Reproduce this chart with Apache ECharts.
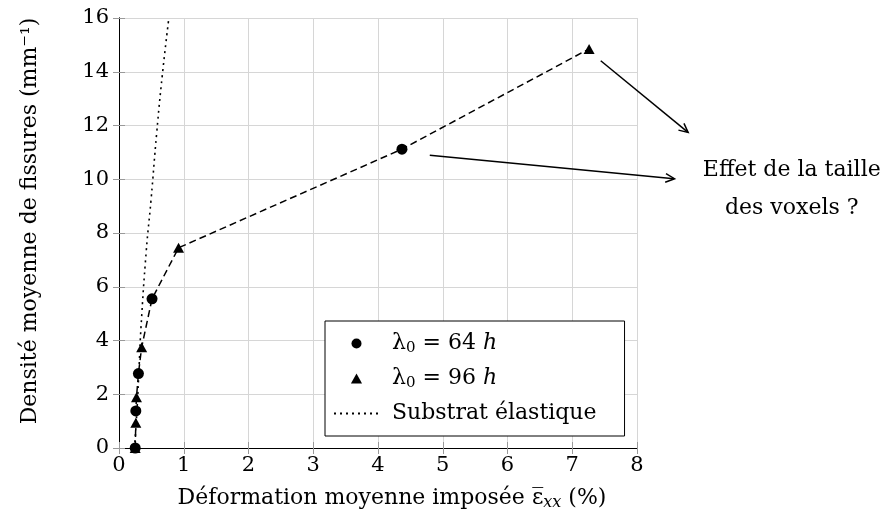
<!DOCTYPE html>
<html><head><meta charset="utf-8">
<script src="https://cdn.jsdelivr.net/npm/echarts@6/dist/echarts.min.js"></script>
<style>html,body{margin:0;padding:0;background:#fff}#c{width:886px;height:526px}</style>
</head><body><div id="c"></div>
<script>
// Data
const pts64 = [[0.25, 0], [0.26, 1.38], [0.30, 2.77], [0.51, 5.55], [4.37, 11.12]];
const pts96 = [[0.25, 0], [0.26, 0.94], [0.27, 1.89], [0.35, 3.75], [0.92, 7.45], [7.26, 14.85]];
const substrat = [[0.24, 0], [0.28, 1.5], [0.31, 3.0], [0.34, 4.5], [0.42, 7.3], [0.495, 9.24], [0.582, 11.72], [0.67, 13.9], [0.77, 16]];
const xTicks = [0, 1, 2, 3, 4, 5, 6, 7, 8];
const yTicks = [0, 2, 4, 6, 8, 10, 12, 14, 16];
const arrows = [[[7.44, 14.41], [8.79, 11.74]], [[4.80, 10.89], [8.58, 10.02]]];
const noteAnchor = [10.39, 10.35];
const noteLines = ['Effet de la taille', 'des voxels ?'];

const combined = pts64.concat(pts96).sort((a, b) => a[0] - b[0] || a[1] - b[1]);
const FONT = 'DejaVu Serif';
const FS = 22;
const chart = echarts.init(document.getElementById('c'), null, {renderer: 'canvas'});
const legendText = {
  l64: '{t|λ}{s|0}{t| = 64 }{i|h}',
  l96: '{t|λ}{s|0}{t| = 96 }{i|h}',
  sub: '{t|Substrat élastique}'
};
const tickAxis = {
  axisLine: {show: true, lineStyle: {color: '#000', width: 1}},
  axisTick: {show: true, inside: true, length: 6, lineStyle: {color: '#999'}},
  axisLabel: {show: false},
  splitLine: {show: false}
};
chart.setOption({
  animation: false,
  backgroundColor: '#fff',
  grid: {left: 119, top: 18, right: 249, bottom: 78, containLabel: false},
  xAxis: [{
    type: 'value', min: xTicks[0], max: xTicks[xTicks.length - 1], interval: 1,
    name: '{a|Déformation moyenne imposée }{e|ε̅}{s|xx}{a| (%)}',
    nameLocation: 'middle', nameGap: 37,
    nameTextStyle: {padding: [0, 0, 0, 28], rich: {
      a: {fontFamily: FONT, fontSize: FS, color: '#000'},
      e: {fontFamily: FONT, fontSize: FS, color: '#000'},
      s: {fontFamily: FONT, fontSize: 16, fontStyle: 'italic', color: '#000', padding: [10, 0, 0, 0]}
    }},
    axisLine: {show: true, onZero: false, lineStyle: {color: '#000', width: 1}},
    axisTick: {show: true, inside: true, length: 6, lineStyle: {color: '#999'}},
    axisLabel: {fontFamily: FONT, fontSize: 21, color: '#000', margin: 7},
    splitLine: {show: true, lineStyle: {color: '#d6d6d6', width: 1}}
  }, Object.assign({type: 'value', position: 'top', min: 0, max: 8, interval: 1}, tickAxis)],
  yAxis: [{
    type: 'value', min: yTicks[0], max: yTicks[yTicks.length - 1], interval: 2,
    name: 'Densité moyenne de fissures (mm⁻¹)',
    nameLocation: 'middle', nameGap: 78,
    nameTextStyle: {fontFamily: FONT, fontSize: FS, color: '#000', padding: [0, 0, 0, 24]},
    axisLine: {show: true, onZero: false, lineStyle: {color: '#000', width: 1}},
    axisTick: {show: true, inside: true, length: 6, lineStyle: {color: '#999'}},
    axisLabel: {fontFamily: FONT, fontSize: 21, color: '#000', margin: 10},
    splitLine: {show: true, lineStyle: {color: '#d6d6d6', width: 1}}
  }, Object.assign({type: 'value', position: 'right', min: 0, max: 16, interval: 2}, tickAxis)],
  legend: {
    orient: 'vertical', left: 325, top: 321,
    data: [
      {name: 'l64', icon: 'circle'},
      {name: 'l96', icon: 'path://M5,0 L10,9 L0,9 Z'},
      {name: 'sub', itemStyle: {color: 'rgba(0,0,0,0)', borderWidth: 0, opacity: 0}}
    ],
    symbolKeepAspect: true,
    itemWidth: 45, itemHeight: 10, itemGap: 11,
    padding: [11, 28, 11, 8],
    borderColor: '#000', borderWidth: 1, backgroundColor: '#fff',
    formatter: n => legendText[n],
    textStyle: {
      fontFamily: FONT, fontSize: FS, color: '#000', lineHeight: 23, padding: [0, 0, 0, 8],
      rich: {
        t: {fontFamily: FONT, fontSize: FS, color: '#000'},
        s: {fontFamily: FONT, fontSize: 15, color: '#000', padding: [10, 0, 0, 0]},
        i: {fontFamily: FONT, fontSize: FS, fontStyle: 'italic', color: '#000'}
      }
    }
  },
  series: [
    {
      name: 'sub', type: 'line', data: substrat, smooth: true, symbol: 'none', showSymbol: false, z: 2,
      lineStyle: {color: '#000', width: 1.6, type: [2, 4]}, itemStyle: {color: '#000'}
    },
    {
      name: 'path', type: 'line', data: combined, symbol: 'none', z: 2,
      lineStyle: {color: '#000', width: 1.5, type: [7, 4]}
    },
    {
      name: 'l64', type: 'scatter', data: pts64, symbol: 'circle', symbolSize: 11, z: 4,
      itemStyle: {color: '#000', opacity: 1}
    },
    {
      name: 'l96', type: 'scatter', data: pts96, symbol: 'triangle', symbolSize: [11, 10], z: 5,
      itemStyle: {color: '#000', opacity: 1}
    }
  ]
});
const toPx = v => chart.convertToPixel({xAxisIndex: 0, yAxisIndex: 0}, v);
const graphics = [];
arrows.forEach(a => {
  const p0 = toPx(a[0]), p1 = toPx(a[1]);
  const dx = p1[0] - p0[0], dy = p1[1] - p0[1];
  const L = Math.hypot(dx, dy), ux = dx / L, uy = dy / L;
  const hl = 10, ang = 0.45;
  const back = (s) => [p1[0] - hl * (ux * Math.cos(ang) - s * uy * Math.sin(ang)),
                       p1[1] - hl * (uy * Math.cos(ang) + s * ux * Math.sin(ang))];
  graphics.push({type: 'line', silent: true, z: 10,
    shape: {x1: p0[0], y1: p0[1], x2: p1[0] - ux * 0.5, y2: p1[1] - uy * 0.5},
    style: {stroke: '#000', lineWidth: 1.5}});
  graphics.push({type: 'polyline', silent: true, z: 10,
    shape: {points: [back(1), [p1[0], p1[1]], back(-1)]},
    style: {stroke: '#000', lineWidth: 1.5, fill: null}});
});
const p = toPx(noteAnchor);
noteLines.forEach((t, i) => graphics.push({
  type: 'text', x: p[0], y: p[1] + i * 38,
  style: {text: t, fontFamily: FONT, fontSize: FS, fill: '#000', align: 'center', verticalAlign: 'middle'}
}));
chart.setOption({graphic: graphics});
</script></body></html>
